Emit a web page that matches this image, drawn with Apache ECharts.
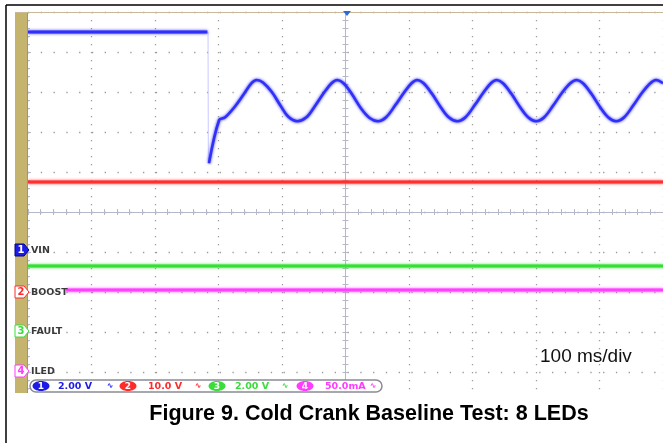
<!DOCTYPE html>
<html>
<head>
<meta charset="utf-8">
<script src="https://cdn.jsdelivr.net/npm/echarts@6/dist/echarts.min.js"></script>
<style>
  html, body { margin: 0; padding: 0; background: #fff; }
  #chart { width: 663px; height: 443px; }
</style>
</head>
<body>
<div id="chart"></div>
<script>
// scope traces, in divisions (x: -5..5 time divs, y: -5..5 volt divs)
const vinHold = [[-5, 4.5], [-2.175, 4.5]];
const vinDrop = [[-2.165, 4.5], [-2.16, 1.22]];
const vinCrank = [
  [-2.15, 1.22], [-1.99, 2.3], [-1.9, 2.36], [-1.75, 2.62], [-1.6, 2.95], [-1.48, 3.22], [-1.4, 3.3],
  [-1.3, 3.24], [-1.16, 3.0], [-1.02, 2.65], [-0.9, 2.38], [-0.76, 2.27], [-0.62, 2.36], [-0.48, 2.65],
  [-0.34, 2.98], [-0.22, 3.22], [-0.13, 3.3], [-0.03, 3.22], [0.1, 2.95], [0.24, 2.6], [0.38, 2.35],
  [0.51, 2.27], [0.64, 2.37], [0.78, 2.66], [0.92, 2.98], [1.04, 3.22], [1.13, 3.3], [1.23, 3.22],
  [1.36, 2.96], [1.5, 2.62], [1.63, 2.36], [1.76, 2.27], [1.89, 2.37], [2.03, 2.66], [2.17, 2.98],
  [2.29, 3.22], [2.38, 3.3], [2.48, 3.22], [2.61, 2.96], [2.75, 2.62], [2.88, 2.36], [3.0, 2.27],
  [3.13, 2.37], [3.27, 2.66], [3.41, 2.98], [3.54, 3.22], [3.64, 3.3], [3.74, 3.22], [3.87, 2.96],
  [4.01, 2.62], [4.14, 2.36], [4.26, 2.27], [4.39, 2.37], [4.53, 2.66], [4.67, 2.98], [4.8, 3.22],
  [4.89, 3.3], [5.0, 3.22]
];
const boost = [[-5, 0.75], [5, 0.75]];
const fault = [[-5, -1.35], [5, -1.35]];
const iled = [[-4.4, -1.95], [5, -1.95]];

const chNames = ["VIN", "BOOST", "FAULT", "ILED"];
const chNums = ["1", "2", "3", "4"];
const chScales = ["2.00 V", "10.0 V", "2.00 V", "50.0mA"];
const chColors = ["#1c1ce6", "#ff2a2a", "#3cdc3c", "#ff3cff"];
const caption = "Figure 9. Cold Crank Baseline Test: 8 LEDs";
const timebase = "100 ms/div";

const gridCol = "#b4b8c8";
const dotCol = "#9a9a9a";

function crossAxis(pos) {
  return {
    type: "value", min: -5, max: 5, interval: 1, position: pos,
    axisLine: { show: true, onZero: true, onZeroAxisIndex: 0, lineStyle: { color: gridCol, width: 1 } },
    axisTick: { show: true, length: 3, lineStyle: { color: gridCol } },
    minorTick: { show: true, splitNumber: 5, length: 3, lineStyle: { color: gridCol } },
    axisLabel: { show: false },
    splitLine: { show: false }
  };
}

let traceStyle = function (c, w) {
  return { color: c, width: w, shadowBlur: 3, shadowColor: c };
};

let option = {
  animation: false,
  grid: { left: 28, top: 12, width: 639, height: 400 },
  xAxis: [
    Object.assign(crossAxis("bottom"), {
      splitLine: { show: true, lineStyle: { color: dotCol, width: 1.3, type: [1.3, 6.7] } }
    }),
    crossAxis("top")
  ],
  yAxis: [
    {
      type: "value", min: -5, max: 5, interval: 1, position: "left",
      axisLine: { show: false, onZero: false },
      axisTick: { show: true, inside: true, length: 3, lineStyle: { color: gridCol } },
      minorTick: { show: true, splitNumber: 5, length: 2, lineStyle: { color: gridCol } },
      axisLabel: { show: false },
      splitLine: { show: true, lineStyle: { color: dotCol, width: 1.3, type: [1.3, 11.48] } }
    },
    crossAxis("left"),
    crossAxis("right")
  ],
  series: [
    { type: "line", data: vinHold, showSymbol: false, lineStyle: traceStyle("#3030f8", 3), z: 5 },
    { type: "line", data: vinDrop, showSymbol: false, lineStyle: { color: "#c8c8ff", width: 1 }, z: 4 },
    { type: "line", data: vinCrank, showSymbol: false, smooth: 0.35, lineStyle: traceStyle("#3030f8", 2.6), z: 5 },
    { type: "line", data: boost, showSymbol: false, lineStyle: traceStyle("#ff3030", 3), z: 5 },
    { type: "line", data: fault, showSymbol: false, lineStyle: traceStyle("#33e033", 3), z: 5 },
    { type: "line", data: iled, showSymbol: false, lineStyle: traceStyle("#ff40ff", 3), z: 5 }
  ],
  graphic: []
};

let g = option.graphic;
// white area below the screen
g.push({ type: "rect", z: 100, shape: { x: 7, y: 393, width: 660, height: 50 }, style: { fill: "#fff" } });
// tan bar at left and top edge
g.push({ type: "rect", z: 101, shape: { x: 15, y: 12, width: 13, height: 381 }, style: { fill: "#c4b46e" } });
g.push({ type: "line", z: 101, shape: { x1: 27.5, y1: 12, x2: 27.5, y2: 393 }, style: { stroke: "#a89858", lineWidth: 1 } });
g.push({ type: "line", z: 101, shape: { x1: 15, y1: 12.5, x2: 663, y2: 12.5 }, style: { stroke: "#c8b898", lineWidth: 1 } });
// trigger marker
g.push({ type: "polygon", z: 102, shape: { points: [[343, 11], [351, 11], [347, 16]] }, style: { fill: "#2a6ad8" } });
// outer frame
g.push({ type: "line", z: 102, shape: { x1: 6, y1: 5, x2: 663, y2: 5 }, style: { stroke: "#000", lineWidth: 1.5 } });
g.push({ type: "line", z: 102, shape: { x1: 6, y1: 5, x2: 6, y2: 443 }, style: { stroke: "#000", lineWidth: 1.5 } });

// channel markers and names
const markerY = [250, 292, 331, 371];
chNames.forEach(function (name, i) {
  let y = markerY[i];
  let c = chColors[i];
  g.push({
    type: "polygon", z: 103,
    shape: { points: [[15, y - 6], [24, y - 6], [29, y], [24, y + 6], [15, y + 6]] },
    style: { fill: i === 0 ? c : "#fff", stroke: i === 0 ? "#000080" : c, lineWidth: 1 }
  });
  g.push({
    type: "text", z: 104, x: 21, y: y,
    style: { text: chNums[i], fill: i === 0 ? "#fff" : c, font: "bold 10px DejaVu Sans", align: "center", verticalAlign: "middle" }
  });
  g.push({
    type: "text", z: 103, x: 31, y: y + 1,
    style: { text: name, fill: "#3a3a3a", font: "bold 9.5px DejaVu Sans", verticalAlign: "middle" }
  });
});

// status bar with channel scales
g.push({ type: "rect", z: 103, shape: { x: 30, y: 380, width: 352, height: 12, r: 6 }, style: { fill: "#fff", stroke: "#8a8a96", lineWidth: 1.5 } });
const ovalX = [41, 128, 217, 305];
const scaleX = [58, 148, 235, 325];
const iconX = [110, 198, 285, 373];
chScales.forEach(function (s, i) {
  let c = chColors[i];
  g.push({ type: "ellipse", z: 104, shape: { cx: ovalX[i], cy: 386, rx: 8.5, ry: 5 }, style: { fill: c } });
  g.push({
    type: "text", z: 105, x: ovalX[i], y: 386.5,
    style: { text: chNums[i], fill: "#fff", font: "bold 9px DejaVu Sans", align: "center", verticalAlign: "middle" }
  });
  g.push({
    type: "text", z: 104, x: scaleX[i], y: 386.5,
    style: { text: s, fill: c, font: "bold 9.5px DejaVu Sans", verticalAlign: "middle" }
  });
  g.push({
    type: "text", z: 104, x: iconX[i], y: 386,
    style: { text: "\u223F", fill: c, font: "bold 8px DejaVu Sans", align: "center", verticalAlign: "middle" }
  });
});

// captions
g.push({ type: "text", z: 104, x: 540, y: 357, style: { text: timebase, fill: "#111", font: "19px Liberation Sans", verticalAlign: "middle" } });
g.push({ type: "text", z: 104, x: 369, y: 414, style: { text: caption, fill: "#000", font: "bold 21.5px Liberation Sans", align: "center", verticalAlign: "middle" } });

let myChart = echarts.init(document.getElementById("chart"));
myChart.setOption(option);
</script>
</body>
</html>
